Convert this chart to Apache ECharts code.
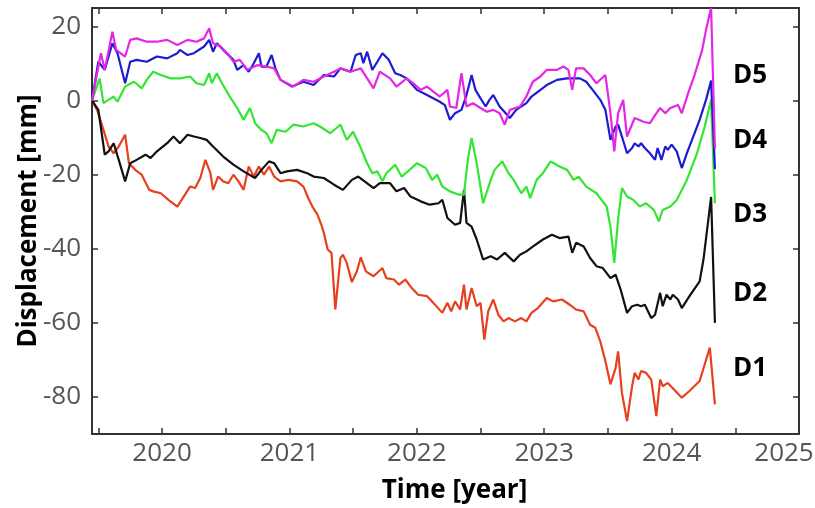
<!DOCTYPE html>
<html>
<head>
<meta charset="utf-8">
<script src="https://cdn.jsdelivr.net/npm/echarts@6/dist/echarts.min.js"></script>
<style>
  html, body { margin: 0; padding: 0; background: #fff; }
  #chart { width: 815px; height: 508px; }
</style>
</head>
<body>
<div id="chart"></div>
<script>
// [year, displacement mm]
var d1 = [[2019.45,0],[2019.49,-2.5],[2019.54,-7.9],[2019.58,-12.4],[2019.62,-14.2],[2019.66,-12.4],[2019.71,-9.2],[2019.74,-16.9],[2019.79,-18.7],[2019.84,-20.0],[2019.90,-24.1],[2019.93,-24.5],[2019.99,-25.0],[2020.05,-26.8],[2020.12,-28.6],[2020.17,-25.9],[2020.22,-23.2],[2020.26,-23.6],[2020.30,-20.9],[2020.34,-16.0],[2020.38,-19.6],[2020.40,-24.1],[2020.44,-20.5],[2020.48,-21.8],[2020.52,-22.3],[2020.56,-20.0],[2020.60,-21.8],[2020.64,-24.1],[2020.68,-17.8],[2020.72,-20.5],[2020.76,-17.8],[2020.80,-20.0],[2020.84,-17.8],[2020.88,-20.5],[2020.93,-21.8],[2020.99,-21.4],[2021.06,-21.8],[2021.11,-23.2],[2021.15,-26.5],[2021.18,-28.6],[2021.22,-30.8],[2021.25,-33.5],[2021.27,-35.7],[2021.30,-40.2],[2021.33,-41.1],[2021.36,-56.4],[2021.40,-42.5],[2021.42,-41.6],[2021.45,-43.8],[2021.49,-49.0],[2021.53,-46.0],[2021.56,-42.3],[2021.60,-46.1],[2021.66,-47.4],[2021.73,-45.2],[2021.76,-47.9],[2021.82,-48.3],[2021.86,-49.7],[2021.91,-48.3],[2021.96,-50.6],[2022.01,-52.4],[2022.08,-52.8],[2022.13,-54.6],[2022.20,-57.3],[2022.24,-54.6],[2022.27,-56.9],[2022.30,-54.2],[2022.34,-56.4],[2022.37,-49.7],[2022.39,-56.4],[2022.43,-50.6],[2022.47,-55.5],[2022.50,-54.6],[2022.53,-64.5],[2022.56,-56.9],[2022.60,-53.7],[2022.64,-57.8],[2022.68,-59.6],[2022.72,-58.7],[2022.77,-59.6],[2022.82,-58.7],[2022.86,-59.6],[2022.90,-57.3],[2022.95,-56.0],[2023.02,-53.3],[2023.07,-54.2],[2023.14,-53.7],[2023.20,-55.1],[2023.25,-56.4],[2023.31,-56.9],[2023.36,-60.5],[2023.40,-61.3],[2023.44,-65.0],[2023.48,-70.3],[2023.52,-76.6],[2023.56,-72.2],[2023.58,-67.7],[2023.61,-78.9],[2023.65,-86.5],[2023.69,-77.1],[2023.71,-73.5],[2023.74,-75.3],[2023.76,-73.0],[2023.80,-73.5],[2023.84,-75.3],[2023.88,-85.2],[2023.91,-75.3],[2023.93,-77.1],[2023.97,-76.2],[2024.03,-78.4],[2024.08,-80.2],[2024.14,-78.4],[2024.22,-75.7],[2024.30,-66.7],[2024.34,-82.0]];

var d2 = [[2019.45,0],[2019.50,-2.5],[2019.55,-14.6],[2019.58,-13.7],[2019.62,-11.5],[2019.66,-16.0],[2019.71,-21.8],[2019.75,-16.9],[2019.80,-16.0],[2019.87,-14.6],[2019.91,-15.5],[2019.96,-13.7],[2020.04,-11.5],[2020.09,-9.7],[2020.14,-11.5],[2020.20,-9.2],[2020.25,-9.7],[2020.30,-10.1],[2020.35,-10.6],[2020.40,-12.4],[2020.48,-15.1],[2020.56,-17.3],[2020.64,-19.1],[2020.73,-20.9],[2020.78,-18.7],[2020.84,-16.4],[2020.88,-16.9],[2020.93,-19.6],[2020.98,-19.1],[2021.06,-18.7],[2021.14,-19.6],[2021.19,-20.5],[2021.27,-20.9],[2021.35,-22.7],[2021.42,-24.1],[2021.49,-21.4],[2021.54,-20.5],[2021.59,-21.8],[2021.66,-23.6],[2021.71,-22.3],[2021.79,-22.3],[2021.84,-24.5],[2021.90,-23.6],[2021.95,-25.9],[2022.03,-27.2],[2022.10,-28.1],[2022.17,-27.7],[2022.20,-26.8],[2022.24,-31.7],[2022.30,-33.5],[2022.34,-33.0],[2022.37,-24.1],[2022.39,-33.0],[2022.43,-34.0],[2022.47,-37.5],[2022.52,-42.9],[2022.58,-42.0],[2022.63,-42.9],[2022.69,-41.1],[2022.76,-43.4],[2022.81,-41.6],[2022.86,-40.7],[2022.91,-39.4],[2022.99,-37.5],[2023.06,-36.2],[2023.12,-37.1],[2023.19,-36.7],[2023.22,-41.1],[2023.25,-38.4],[2023.31,-39.4],[2023.36,-42.5],[2023.41,-44.7],[2023.46,-45.2],[2023.52,-47.9],[2023.56,-47.0],[2023.60,-51.0],[2023.65,-57.3],[2023.69,-55.5],[2023.73,-55.1],[2023.76,-55.5],[2023.79,-55.1],[2023.84,-58.7],[2023.87,-57.8],[2023.91,-51.9],[2023.93,-55.5],[2023.96,-52.4],[2023.99,-53.7],[2024.01,-52.4],[2024.05,-53.7],[2024.08,-56.0],[2024.14,-52.8],[2024.22,-48.8],[2024.25,-42.9],[2024.31,-26.0],[2024.34,-60.0]];

var d3 = [[2019.45,0],[2019.51,6.0],[2019.54,-0.7],[2019.58,0.2],[2019.62,1.1],[2019.65,-0.3],[2019.71,3.8],[2019.78,5.1],[2019.84,3.3],[2019.88,5.6],[2019.93,7.8],[2019.99,6.9],[2020.07,6.0],[2020.14,6.0],[2020.22,6.5],[2020.27,4.7],[2020.33,4.2],[2020.37,7.4],[2020.39,4.7],[2020.43,7.4],[2020.47,4.7],[2020.54,0.6],[2020.59,-2.0],[2020.64,-5.2],[2020.69,-2.0],[2020.73,-6.1],[2020.78,-7.9],[2020.82,-8.8],[2020.86,-11.5],[2020.90,-7.9],[2020.97,-8.4],[2021.03,-6.5],[2021.11,-7.0],[2021.19,-6.1],[2021.24,-7.0],[2021.32,-8.8],[2021.37,-7.4],[2021.40,-6.5],[2021.45,-10.6],[2021.50,-8.4],[2021.56,-12.8],[2021.61,-16.9],[2021.65,-19.6],[2021.69,-19.1],[2021.73,-21.8],[2021.76,-19.6],[2021.83,-17.3],[2021.88,-20.5],[2021.93,-19.1],[2022.00,-16.9],[2022.07,-18.2],[2022.12,-21.4],[2022.16,-20.0],[2022.20,-23.2],[2022.26,-24.5],[2022.33,-25.4],[2022.37,-25.4],[2022.40,-16.0],[2022.43,-10.1],[2022.47,-16.9],[2022.52,-27.7],[2022.58,-21.4],[2022.61,-18.7],[2022.67,-16.4],[2022.72,-19.6],[2022.76,-21.4],[2022.82,-25.0],[2022.86,-23.2],[2022.89,-26.3],[2022.94,-21.4],[2022.99,-19.6],[2023.05,-16.4],[2023.12,-17.8],[2023.18,-18.7],[2023.23,-21.4],[2023.27,-20.5],[2023.33,-23.2],[2023.41,-25.0],[2023.49,-28.6],[2023.52,-34.0],[2023.55,-43.8],[2023.58,-32.0],[2023.61,-23.6],[2023.65,-25.9],[2023.70,-26.8],[2023.75,-28.6],[2023.80,-27.7],[2023.86,-29.5],[2023.90,-32.6],[2023.93,-29.5],[2023.99,-28.6],[2024.04,-26.8],[2024.12,-21.4],[2024.20,-14.2],[2024.26,-7.0],[2024.31,0.2],[2024.34,-27.7]];

var d4 = [[2019.45,0],[2019.50,10.5],[2019.55,8.3],[2019.61,15.5],[2019.65,12.8],[2019.71,4.7],[2019.75,10.5],[2019.80,11.0],[2019.88,10.5],[2019.96,11.9],[2020.04,11.4],[2020.12,12.8],[2020.14,13.7],[2020.20,12.3],[2020.25,12.8],[2020.33,14.6],[2020.37,16.4],[2020.40,13.2],[2020.43,15.5],[2020.48,13.7],[2020.56,11.0],[2020.59,8.3],[2020.64,9.6],[2020.68,7.8],[2020.72,10.1],[2020.76,12.8],[2020.78,9.2],[2020.82,9.2],[2020.86,12.3],[2020.89,8.7],[2020.93,5.6],[2021.02,3.8],[2021.11,5.1],[2021.19,4.2],[2021.27,6.9],[2021.35,6.5],[2021.40,8.7],[2021.48,7.8],[2021.52,12.3],[2021.56,12.8],[2021.58,10.1],[2021.61,13.2],[2021.65,8.3],[2021.69,10.5],[2021.73,12.8],[2021.78,11.0],[2021.83,7.4],[2021.87,6.9],[2021.92,6.0],[2022.00,2.9],[2022.08,1.5],[2022.18,-0.3],[2022.22,-1.2],[2022.26,-5.2],[2022.30,-3.4],[2022.35,-2.5],[2022.39,1.5],[2022.43,6.9],[2022.46,2.9],[2022.50,0.6],[2022.54,-1.6],[2022.57,0.2],[2022.60,1.5],[2022.65,-1.6],[2022.71,-3.9],[2022.73,-4.7],[2022.78,-2.5],[2022.86,-0.7],[2022.90,1.1],[2022.97,2.9],[2023.02,4.2],[2023.10,5.6],[2023.18,6.0],[2023.28,6.0],[2023.33,5.1],[2023.38,2.9],[2023.44,0.2],[2023.48,-2.5],[2023.52,-10.6],[2023.56,-7.0],[2023.58,-6.5],[2023.61,-9.7],[2023.65,-14.2],[2023.69,-12.8],[2023.71,-11.5],[2023.74,-12.4],[2023.76,-11.5],[2023.79,-12.8],[2023.83,-14.2],[2023.87,-16.0],[2023.89,-12.8],[2023.92,-16.0],[2023.95,-12.4],[2023.97,-13.3],[2024.00,-11.9],[2024.04,-13.7],[2024.08,-18.2],[2024.12,-14.2],[2024.17,-9.7],[2024.22,-5.2],[2024.27,0.2],[2024.31,5.4],[2024.32,-2.5],[2024.34,-18.5]];

var d5 = [[2019.45,0],[2019.52,12.8],[2019.55,8.3],[2019.61,18.6],[2019.64,13.7],[2019.71,11.9],[2019.75,16.4],[2019.80,16.8],[2019.88,15.9],[2019.96,15.9],[2020.04,16.4],[2020.12,15.0],[2020.20,16.4],[2020.27,15.9],[2020.33,16.8],[2020.37,19.5],[2020.40,15.5],[2020.46,14.6],[2020.51,12.8],[2020.56,10.5],[2020.61,11.0],[2020.67,8.3],[2020.75,9.6],[2020.82,9.2],[2020.88,8.7],[2020.93,5.6],[2021.03,3.8],[2021.11,5.6],[2021.19,5.1],[2021.27,6.5],[2021.35,7.8],[2021.40,8.7],[2021.48,7.8],[2021.56,8.7],[2021.66,3.3],[2021.71,7.8],[2021.79,6.0],[2021.84,3.8],[2021.92,6.0],[2021.97,4.7],[2022.03,2.9],[2022.08,3.8],[2022.13,2.4],[2022.18,1.1],[2022.24,2.9],[2022.26,-1.6],[2022.31,-2.0],[2022.35,7.4],[2022.39,-1.6],[2022.44,-0.7],[2022.50,-2.0],[2022.55,-3.0],[2022.60,-2.5],[2022.65,-3.4],[2022.69,-6.5],[2022.73,-2.5],[2022.81,-1.6],[2022.86,1.1],[2022.91,5.1],[2022.97,6.5],[2023.02,8.3],[2023.10,8.3],[2023.15,9.2],[2023.19,8.3],[2023.22,2.9],[2023.25,8.7],[2023.31,8.7],[2023.36,6.9],[2023.41,4.7],[2023.48,6.9],[2023.52,-3.4],[2023.55,-13.7],[2023.58,-3.4],[2023.62,0.2],[2023.65,-9.7],[2023.71,-4.7],[2023.78,-5.7],[2023.83,-6.1],[2023.87,-3.9],[2023.91,-2.0],[2023.95,-3.4],[2023.99,-2.0],[2024.05,-1.2],[2024.08,-3.4],[2024.13,2.0],[2024.18,6.9],[2024.24,13.7],[2024.27,19.1],[2024.31,25.0],[2024.34,-13.0]];

var xTicks = [2019.5, 2020, 2020.5, 2021, 2021.5, 2022, 2022.5, 2023, 2023.5, 2024, 2024.5, 2025];
var xLabels = [2020, 2021, 2022, 2023, 2024, 2025];
var yTicks = [-80, -60, -40, -20, 0, 20];

var names = ['D1', 'D2', 'D3', 'D4', 'D5'];
var colors = ['#e8401e', '#111111', '#33e633', '#1c1cd0', '#e526e5'];
var labelY = [368, 293, 214, 140, 75];

var FONT = '"Open Sans", "Noto Sans", sans-serif';
var AXIS_COLOR = '#333';

function frameAxis(pos, isX, extra) {
  var a = {
    type: 'value',
    position: pos,
    axisLine: { show: true, onZero: false, lineStyle: { color: AXIS_COLOR, width: 2 } },
    axisTick: {
      show: true, inside: true, length: 6,
      customValues: isX ? xTicks : yTicks,
      lineStyle: { color: AXIS_COLOR, width: 1.5 }
    },
    splitLine: { show: false },
    axisLabel: { show: false }
  };
  return Object.assign(a, extra);
}

var chart = echarts.init(document.getElementById('chart'), null, { renderer: 'canvas' });

var option = {
  animation: false,
  backgroundColor: '#fff',
  textStyle: { fontFamily: FONT },
  grid: { left: 92, right: 16, top: 8, bottom: 74, containLabel: false, outerBoundsMode: 'none' },
  xAxis: [
    frameAxis('bottom', true, {
      min: 2019.45, max: 2025,
      name: 'Time [year]',
      nameLocation: 'middle',
      nameGap: 44,
      nameTextStyle: { fontFamily: FONT, fontSize: 26, fontWeight: 'bold', color: '#000', padding: [0, 0, 0, 18] },
      axisLabel: {
        show: true, margin: 7,
        customValues: xLabels,
        fontFamily: FONT, fontSize: 26, color: '#555',
        formatter: function (v) {
          return v === 2025 ? '{r|' + v + '}' : String(v);
        },
        rich: { r: { fontFamily: FONT, fontSize: 26, color: '#555', padding: [0, 30, 0, 0] } }
      }
    }),
    frameAxis('top', true, { min: 2019.45, max: 2025 })
  ],
  yAxis: [
    frameAxis('left', false, {
      min: -90, max: 25,
      name: 'Displacement [mm]',
      nameLocation: 'middle',
      nameGap: 50,
      nameMoveOverlap: false,
      nameRotate: 90,
      nameTextStyle: { fontFamily: FONT, fontSize: 26, fontWeight: 'bold', color: '#000' },
      axisLabel: {
        show: true, margin: 11,
        customValues: yTicks,
        fontFamily: FONT, fontSize: 26, color: '#555'
      }
    }),
    frameAxis('right', false, { min: -90, max: 25 })
  ],
  series: [d1, d2, d3, d4, d5].map(function (d, i) {
    return {
      name: names[i],
      type: 'line',
      data: d,
      showSymbol: false,
      symbol: 'none',
      xAxisIndex: 0,
      yAxisIndex: 0,
      lineStyle: { color: colors[i], width: 2.2 },
      itemStyle: { color: colors[i] },
      z: 2 + i
    };
  }),
  graphic: names.map(function (n, i) {
    return {
      type: 'text',
      left: 733,
      top: labelY[i] - 12,
      style: {
        text: n,
        font: 'bold 26px ' + FONT,
        fill: '#000'
      }
    };
  })
};

chart.setOption(option);
</script>
</body>
</html>
